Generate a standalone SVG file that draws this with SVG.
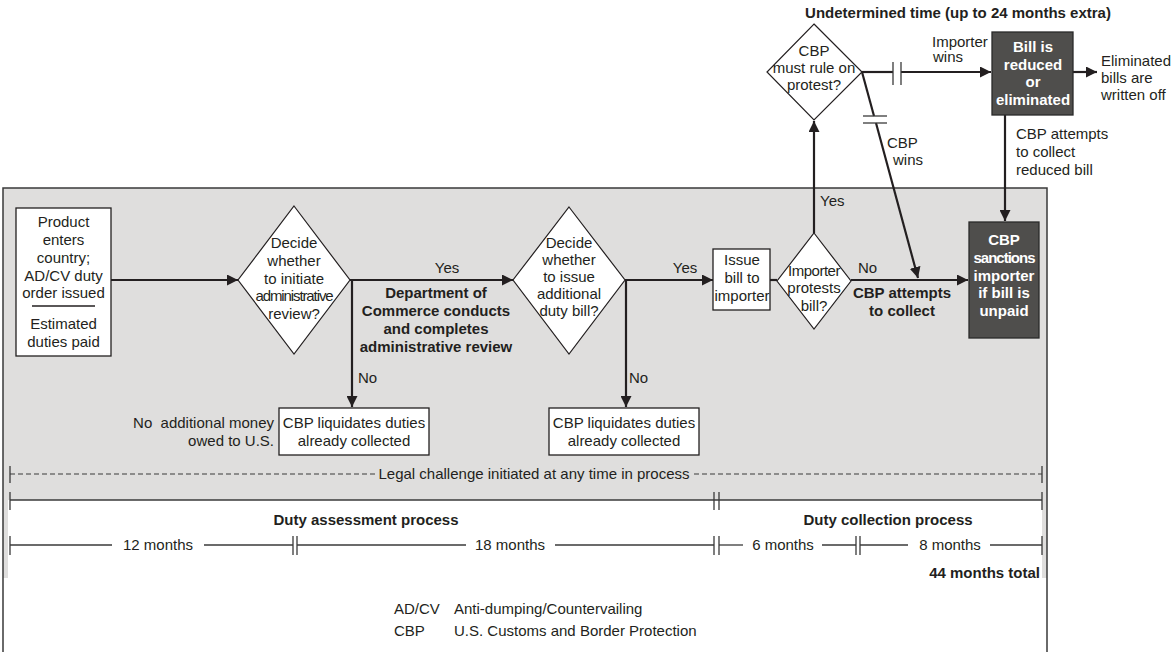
<svg xmlns="http://www.w3.org/2000/svg" width="1174" height="652" viewBox="0 0 1174 652">
<style>
text{font-family:"Liberation Sans",Arial,sans-serif;font-size:15px;fill:#231f20}
.c{text-anchor:middle}
.r{text-anchor:end}
.b{font-weight:bold}
.w{fill:#ffffff;font-weight:bold;text-anchor:middle}
.box{fill:#ffffff;stroke:#231f20;stroke-width:1.3}
.dark{fill:#4f4e4c;stroke:#2a2a2a;stroke-width:1.3}
.dia{fill:#ffffff;stroke:#231f20;stroke-width:1.2}
.ln{stroke:#231f20;stroke-width:2.2;fill:none}
.tl{stroke:#3a3a3a;stroke-width:1.3;fill:none}
.ds{stroke:#3a3a3a;stroke-width:1.2;fill:none;stroke-dasharray:5 3}
</style>
<defs>
<marker id="ah" viewBox="0 0 10 10" refX="10" refY="5" markerWidth="11" markerHeight="11" markerUnits="userSpaceOnUse" orient="auto"><path d="M0,0 L10,5 L0,10 z" fill="#231f20"/></marker>
</defs>
<g id="background">
<rect x="3" y="188" width="1044" height="390" fill="#dfdedd"/>
<rect x="8" y="500" width="1034" height="78" fill="#ffffff"/>
<path d="M3,652 V188 H1047 V652" fill="none" stroke="#3a3a3a" stroke-width="1.5"/>
</g>
<g id="connectors">
<line class="ln" x1="111" y1="280" x2="238" y2="280" marker-end="url(#ah)"/>
<line class="ln" x1="350" y1="280" x2="513" y2="280" marker-end="url(#ah)"/>
<line class="ln" x1="352" y1="280" x2="352" y2="407" marker-end="url(#ah)"/>
<line class="ln" x1="625" y1="280" x2="713" y2="280" marker-end="url(#ah)"/>
<line class="ln" x1="626" y1="280" x2="626" y2="407" marker-end="url(#ah)"/>
<line class="ln" x1="770" y1="280" x2="777" y2="280"/>
<line class="ln" x1="851" y1="280" x2="968" y2="280" marker-end="url(#ah)"/>
<line class="ln" x1="814" y1="233" x2="814" y2="121" marker-end="url(#ah)"/>
<line class="ln" x1="862" y1="72" x2="893" y2="72"/>
<line class="ln" x1="901" y1="72" x2="991" y2="72" marker-end="url(#ah)"/>
<line class="tl" x1="893" y1="62" x2="893" y2="85"/>
<line class="tl" x1="901" y1="62" x2="901" y2="85"/>
<line class="ln" x1="862" y1="72" x2="874" y2="116" stroke-width="1.6"/>
<line class="ln" x1="876" y1="123" x2="918" y2="278" stroke-width="1.6" marker-end="url(#ah)"/>
<line class="tl" x1="863" y1="116" x2="887" y2="116" stroke="#777"/>
<line class="tl" x1="863" y1="123" x2="887" y2="123" stroke="#777"/>
<line class="ln" x1="1073" y1="72" x2="1097" y2="72" marker-end="url(#ah)"/>
<line class="ln" x1="1005" y1="115" x2="1005" y2="221" marker-end="url(#ah)"/>
</g>
<g id="n-product">
<rect class="box" x="16" y="208" width="95" height="148"/>
<text class="c" x="63.5" y="227">Product</text>
<text class="c" x="63.5" y="245">enters</text>
<text class="c" x="63.5" y="263">country;</text>
<text class="c" x="63.5" y="281">AD/CV duty</text>
<text class="c" x="63.5" y="298">order issued</text>
<line x1="32" y1="306" x2="95" y2="306" stroke="#231f20" stroke-width="1.3"/>
<text class="c" x="63.5" y="329">Estimated</text>
<text class="c" x="63.5" y="347">duties paid</text>
</g>
<g id="n-decide-review">
<polygon class="dia" points="294,206 350,280 294,354 238,280"/>
<text class="c" x="294" y="248">Decide</text>
<text class="c" x="294" y="266">whether</text>
<text class="c" x="294" y="284">to initiate</text>
<text class="c" x="294" y="301" letter-spacing="-1.1">administrative</text>
<text class="c" x="294" y="319">review?</text>
</g>
<g id="l-review">
<text class="c" x="447" y="273">Yes</text>
<text class="c b" x="436" y="298">Department of</text>
<text class="c b" x="436" y="316">Commerce conducts</text>
<text class="c b" x="436" y="334">and completes</text>
<text class="c b" x="436" y="352">administrative review</text>
<text x="358" y="383">No</text>
<text x="629" y="383">No</text>
</g>
<g id="n-liquidate1">
<text class="r" x="274" y="428">No&#160; additional money</text>
<text class="r" x="274" y="446">owed to U.S.</text>
<rect class="box" x="279" y="408" width="150" height="47"/>
<text class="c" x="354" y="428">CBP liquidates duties</text>
<text class="c" x="354" y="446">already collected</text>
</g>
<g id="n-decide-bill">
<polygon class="dia" points="569,207 625,280 569,354 513,280"/>
<text class="c" x="569" y="248">Decide</text>
<text class="c" x="569" y="265">whether</text>
<text class="c" x="569" y="282">to issue</text>
<text class="c" x="569" y="299">additional</text>
<text class="c" x="569" y="316">duty bill?</text>
</g>
<g id="n-liquidate2">
<rect class="box" x="549" y="408" width="150" height="47"/>
<text class="c" x="624" y="428">CBP liquidates duties</text>
<text class="c" x="624" y="446">already collected</text>
</g>
<g id="n-issue">
<text class="c" x="685" y="273">Yes</text>
<rect class="box" x="713" y="249" width="57" height="61"/>
<text class="c" x="742" y="265">Issue</text>
<text class="c" x="742" y="283">bill to</text>
<text class="c" x="742" y="301">importer</text>
</g>
<g id="n-protest">
<polygon class="dia" points="814,233 851,281 814,329 777,281"/>
<text class="c" x="814" y="276" letter-spacing="-0.5">Importer</text>
<text class="c" x="814" y="293">protests</text>
<text class="c" x="814" y="311">bill?</text>
<text x="858" y="273">No</text>
<text x="820" y="206">Yes</text>
<text class="c b" x="902" y="298">CBP attempts</text>
<text class="c b" x="902" y="316">to collect</text>
</g>
<g id="n-sanctions">
<rect class="dark" x="969" y="222" width="70" height="116"/>
<text class="w" x="1004" y="245">CBP</text>
<text class="w" x="1004" y="263" letter-spacing="-1">sanctions</text>
<text class="w" x="1004" y="281">importer</text>
<text class="w" x="1004" y="298">if bill is</text>
<text class="w" x="1004" y="316">unpaid</text>
</g>
<g id="n-rule">
<text class="c b" x="958" y="18">Undetermined time (up to 24 months extra)</text>
<polygon class="dia" points="814,24 862,72 814,120 767,72"/>
<text class="c" x="814" y="56">CBP</text>
<text class="c" x="814" y="73">must rule on</text>
<text class="c" x="814" y="90">protest?</text>
<text x="932" y="47">Importer</text>
<text x="933" y="62">wins</text>
<text x="887" y="148">CBP</text>
<text x="893" y="165">wins</text>
</g>
<g id="n-bill">
<rect class="dark" x="992" y="32" width="81" height="83"/>
<text class="w" x="1033" y="52">Bill is</text>
<text class="w" x="1033" y="69.5">reduced</text>
<text class="w" x="1033" y="87">or</text>
<text class="w" x="1033" y="104.5">eliminated</text>
<text x="1101" y="66">Eliminated</text>
<text x="1101" y="83">bills are</text>
<text x="1101" y="100">written off</text>
<text x="1016" y="139">CBP attempts</text>
<text x="1016" y="157">to collect</text>
<text x="1016" y="175">reduced bill</text>
</g>
<g id="timeline">
<line class="ds" x1="10" y1="474" x2="375" y2="474"/>
<line class="ds" x1="694" y1="474" x2="1042" y2="474"/>
<line class="tl" x1="10" y1="466" x2="10" y2="483"/>
<line class="tl" x1="1042" y1="466" x2="1042" y2="483"/>
<text class="c" x="534" y="479">Legal challenge initiated at any time in process</text>
<line class="tl" x1="10" y1="500" x2="1042" y2="500"/>
<line class="tl" x1="10" y1="492" x2="10" y2="510"/>
<line class="tl" x1="714" y1="492" x2="714" y2="510"/>
<line class="tl" x1="719" y1="492" x2="719" y2="510"/>
<line class="tl" x1="1042" y1="492" x2="1042" y2="510"/>
<text class="c b" x="366" y="525">Duty assessment process</text>
<text class="c b" x="888" y="525">Duty collection process</text>
<line class="tl" x1="10" y1="545" x2="112" y2="545"/>
<line class="tl" x1="204" y1="545" x2="293" y2="545"/>
<line class="tl" x1="297" y1="545" x2="466" y2="545"/>
<line class="tl" x1="555" y1="545" x2="714" y2="545"/>
<line class="tl" x1="719" y1="545" x2="743" y2="545"/>
<line class="tl" x1="822" y1="545" x2="856" y2="545"/>
<line class="tl" x1="860" y1="545" x2="908" y2="545"/>
<line class="tl" x1="990" y1="545" x2="1042" y2="545"/>
<line class="tl" x1="10" y1="536" x2="10" y2="555"/>
<line class="tl" x1="293" y1="536" x2="293" y2="555"/>
<line class="tl" x1="297" y1="536" x2="297" y2="555"/>
<line class="tl" x1="714" y1="536" x2="714" y2="555"/>
<line class="tl" x1="719" y1="536" x2="719" y2="555"/>
<line class="tl" x1="856" y1="536" x2="856" y2="555"/>
<line class="tl" x1="860" y1="536" x2="860" y2="555"/>
<line class="tl" x1="1042" y1="536" x2="1042" y2="555"/>
<text class="c" x="158" y="550">12 months</text>
<text class="c" x="510" y="550">18 months</text>
<text class="c" x="783" y="550">6 months</text>
<text class="c" x="950" y="550">8 months</text>
<text class="r b" x="1040" y="578">44 months total</text>
</g>
<g id="legend">
<text x="394" y="614">AD/CV</text>
<text x="454" y="614">Anti-dumping/Countervailing</text>
<text x="394" y="636">CBP</text>
<text x="454" y="636">U.S. Customs and Border Protection</text>
</g>
</svg>
